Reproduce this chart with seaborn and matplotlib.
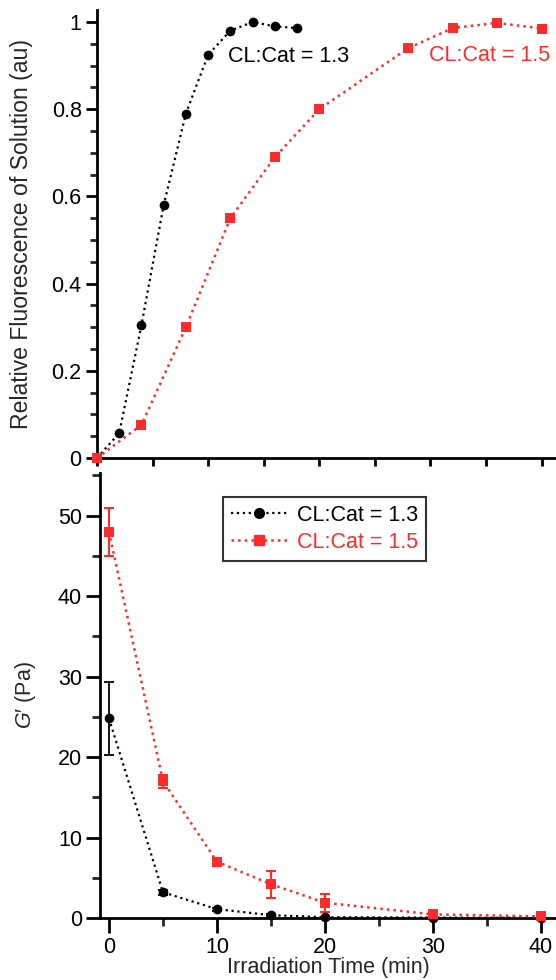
import numpy as np
import pandas as pd
import matplotlib
matplotlib.use("Agg")
import matplotlib.pyplot as plt
import seaborn as sns
from matplotlib.lines import Line2D
from matplotlib.ticker import MultipleLocator

# ---- data ----
fl_t_13 = [0, 2, 4, 6, 8, 10, 12, 14, 16, 18]
fl_v_13 = [0.0, 0.057, 0.305, 0.58, 0.79, 0.925, 0.98, 1.0, 0.99, 0.986]
fl_t_15 = [0, 4, 8, 12, 16, 20, 28, 32, 36, 40]
fl_v_15 = [0.0, 0.076, 0.30, 0.55, 0.69, 0.80, 0.94, 0.986, 0.998, 0.985]

g_t = [0, 5, 10, 15, 20, 30, 40]
g_v_13 = [24.8, 3.2, 1.1, 0.35, 0.1, 0.05, 0.02]
g_e_13 = [4.5, 0.3, 0.2, 0.1, 0.05, 0.02, 0.01]
g_v_15 = [48.0, 17.0, 7.0, 4.2, 1.9, 0.45, 0.2]
g_e_15 = [3.0, 0.8, 0.3, 1.7, 1.1, 0.2, 0.1]

labels = ["CL:Cat = 1.3", "CL:Cat = 1.5"]
colors = ["black", "#ff2a2a"]

sns.set_style("ticks")
plt.rcParams["font.family"] = ["Liberation Sans", "DejaVu Sans"]
plt.rcParams["mathtext.fontset"] = "custom"
plt.rcParams["mathtext.it"] = "Liberation Sans:italic"
plt.rcParams["mathtext.rm"] = "Liberation Sans"

fig = plt.figure(figsize=(5.56, 9.8), dpi=100)
ax1 = fig.add_axes([97/556, 1-458/980, 1-97/556, 448/980])
ax2 = fig.add_axes([100/556, 1-918/980, 1-100/556, 445/980])

FS = 15.5

def style(ax):
    for s in ["top", "right"]:
        ax.spines[s].set_visible(False)
    for s in ["left", "bottom"]:
        ax.spines[s].set_linewidth(2)
        ax.spines[s].set_color("black")
    ax.tick_params(which="major", length=8, width=2, labelsize=FS, colors="black", pad=3)
    ax.tick_params(which="minor", length=5, width=2)
    ax.set_facecolor("white")

# ---- top panel ----
df1 = pd.DataFrame({"t": fl_t_13, "v": fl_v_13})
df2 = pd.DataFrame({"t": fl_t_15, "v": fl_v_15})
sns.lineplot(data=df1, x="t", y="v", ax=ax1, color=colors[0], linestyle=":", lw=1.6,
             marker="o", markersize=7, markeredgewidth=0, clip_on=False, zorder=3)
sns.lineplot(data=df2, x="t", y="v", ax=ax1, color=colors[1], linestyle=":", lw=1.8,
             marker="s", markersize=7.5, markeredgewidth=0, clip_on=False, zorder=4)
ax1.set_xlim(0, 41.3)
ax1.set_ylim(0, 1.0275)
ax1.xaxis.set_major_locator(MultipleLocator(5))
ax1.yaxis.set_minor_locator(MultipleLocator(0.05))
ax1.set_yticks([0, 0.2, 0.4, 0.6, 0.8, 1.0])
ax1.set_yticklabels(["0", "0.2", "0.4", "0.6", "0.8", "1"])
ax1.set_xticklabels([])
ax1.set_xlabel("")
ax1.set_ylabel("Relative Fluorescence of Solution (au)", fontsize=16.6)
style(ax1)
ax1.tick_params(axis="x", which="major", length=6)
ax1.text(11.8, 0.92, labels[0], color=colors[0], fontsize=FS, va="center")
ax1.text(29.9, 0.924, labels[1], color=colors[1], fontsize=FS, va="center")

# ---- bottom panel ----
dg1 = pd.DataFrame({"t": g_t, "v": g_v_13})
dg2 = pd.DataFrame({"t": g_t, "v": g_v_15})
ax2.errorbar(g_t, g_v_13, yerr=g_e_13, fmt="none", ecolor=colors[0], elinewidth=1.3,
             capsize=3.5, capthick=1.3, zorder=2, clip_on=False)
ax2.errorbar(g_t, g_v_15, yerr=g_e_15, fmt="none", ecolor=colors[1], elinewidth=1.5,
             capsize=3.5, capthick=1.5, zorder=3, clip_on=False)
sns.lineplot(data=dg1, x="t", y="v", ax=ax2, color=colors[0], linestyle=":", lw=1.6,
             marker="o", markersize=7, markeredgewidth=0, clip_on=False, zorder=3)
sns.lineplot(data=dg2, x="t", y="v", ax=ax2, color=colors[1], linestyle=":", lw=1.8,
             marker="s", markersize=7.5, markeredgewidth=0, clip_on=False, zorder=4)
ax2.set_xlim(-0.83, 41.4)
ax2.set_ylim(0, 55.3)
ax2.xaxis.set_major_locator(MultipleLocator(10))
ax2.xaxis.set_minor_locator(MultipleLocator(5))
ax2.yaxis.set_major_locator(MultipleLocator(10))
ax2.yaxis.set_minor_locator(MultipleLocator(5))
ax2.set_xlabel("Irradiation Time (min)", fontsize=FS, labelpad=-1)
ax2.set_ylabel(r"$\mathit{G}$′ (Pa)", fontsize=FS)
style(ax2)
ax2.tick_params(axis="y", which="major", length=10)
ax2.tick_params(axis="x", which="major", length=11)
ax2.tick_params(axis="both", which="minor", length=6)

handles = [Line2D([], [], color=colors[0], linestyle=":", lw=1.6, marker="o", markersize=7),
           Line2D([], [], color=colors[1], linestyle=":", lw=1.8, marker="s", markersize=7.5)]
leg = ax2.legend(handles, labels, loc="upper left", bbox_to_anchor=(0.27, 0.946),
                 fontsize=FS, frameon=True, fancybox=False, edgecolor="black",
                 handlelength=2.6, handletextpad=0.5, borderpad=0.35, labelspacing=0.3,
                 borderaxespad=0)
leg.get_frame().set_linewidth(1.5)
for txt, c in zip(leg.get_texts(), colors):
    txt.set_color(c)

ax1.yaxis.set_label_coords(-0.139, 0.5)
ax2.yaxis.set_label_coords(-0.136, 0.5)

fig.savefig("out.png", dpi=100, facecolor="white")
